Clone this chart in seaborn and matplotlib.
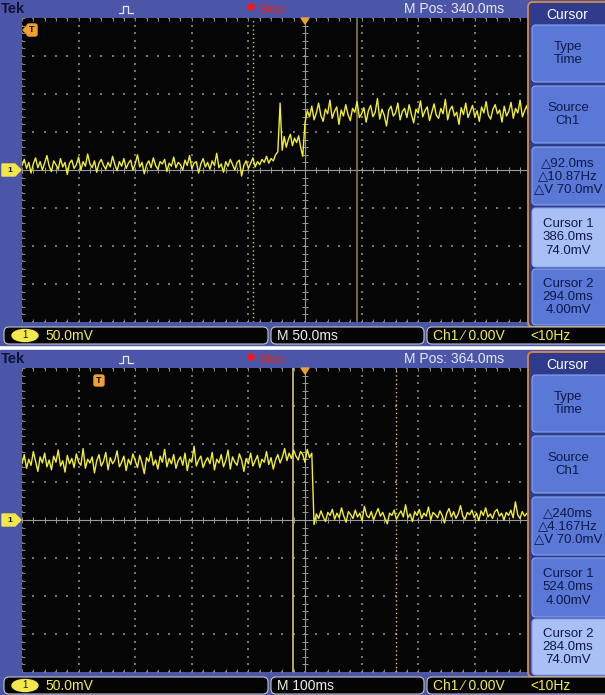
import numpy as np
import pandas as pd
import matplotlib
matplotlib.use('Agg')
import matplotlib.pyplot as plt
from matplotlib.patches import FancyBboxPatch, Rectangle, Polygon, Ellipse, Circle
import seaborn as sns

################################################################################
# Data (time in ms, voltage in mV)

mv_per_div = 50.0

top_center_ms = 340.0
top_ms_per_div = 50.0
top_seg_bounds = [(90, 316), (318, 338), (340, 540)]
top_low_mv = [6, 14, 2, 10, -4, 8, 16, 3, 11, 0, 9, 19, 5, -2, 12, 7, 1, 15, 4, 10,
              -6, 9, 13, 2, 7, 17, 0, 11, 5, 21, 8, 3, 12, -3, 9, 14, 6, 1, 10, 4,
              18, 7, -1, 11, 5, 15, 2, 9, 13, 0, 8, 20, 4, 10, -5, 7, 12, 3, 16, 6,
              1, 11, 8, 14, -2, 9, 5, 17, 3, 10, 7, 0, 13, 6, 19, 2, 9, 11, -4, 8,
              15, 4, 10, 1, 12, 6, 22, 3, 8, -3, 11, 5, 14, 7, 0, 10, 13, -8, 6, 12,
              2, 9, 16, 4, 11, 7, 14, 10, 18, 9, 15, 12, 20, 24]
top_mid_mv = [88, 26, 44, 30, 40, 47, 32, 42, 36, 45, 30, 18]
top_high_mv = [62, 78, 70, 84, 66, 75, 88, 72, 64, 80, 74, 92, 68, 77, 83, 60, 79, 71, 86, 73,
               65, 81, 76, 90, 69, 74, 82, 63, 78, 85, 70, 76, 94, 67, 80, 72, 58, 79, 84, 71,
               75, 88, 66, 77, 81, 69, 86, 73, 62, 80, 75, 91, 70, 78, 83, 65, 76, 87, 72, 68,
               81, 74, 93, 66, 79, 84, 71, 76, 60, 82, 73, 88, 69, 77, 85, 70, 78, 64, 83, 75,
               90, 72, 67, 80, 86, 74, 79, 63, 84, 71, 77, 89, 68, 81, 75, 92, 70, 78, 85, 66, 80]
top_cursor_solid_ms = 386.0
top_cursor_dotted_ms = 294.0

bottom_center_ms = 364.0
bottom_ms_per_div = 100.0
bottom_seg_bounds = [(-136, 376), (380, 760)]
bottom_high_mv = [74, 86, 68, 80, 72, 90, 77, 64, 83, 75, 88, 70, 79, 66, 84, 76, 92, 71, 78, 63,
                  85, 74, 81, 69, 87, 76, 72, 94, 68, 80, 75, 83, 62, 78, 86, 71, 77, 89, 66, 82,
                  74, 79, 91, 70, 76, 84, 65, 80, 73, 87, 78, 69, 85, 75, 61, 82, 77, 90, 72, 79,
                  67, 84, 76, 93, 70, 81, 74, 86, 68, 78, 83, 72, 88, 65, 80, 76, 97, 71, 79, 84,
                  69, 77, 82, 74, 89, 66, 80, 75, 86, 70, 78, 92, 67, 83, 76, 72, 87, 79, 64, 81,
                  74, 88, 71, 78, 85, 69, 80, 76, 90, 73, 82, 67, 79, 86, 75, 83, 94, 78, 88, 81,
                  92, 84, 79, 90, 86, 76, 93, 82, 88]
bottom_low_mv = [-6, 8, 2, 12, 4, -2, 10, 6, 14, 1, 9, 3, 16, 5, -3, 11, 7, 2, 13, 4,
                 9, -1, 18, 6, 3, 11, 0, 8, 15, 5, 10, 2, -5, 9, 6, 13, 1, 7, 12, 4,
                 20, 3, 8, -2, 11, 6, 14, 2, 9, 5, 17, 0, 10, 7, 3, 12, 6, -4, 9, 15,
                 4, 11, 2, 8, 19, 5, 1, 10, 7, 13, 3, 9, -1, 12, 6, 16, 4, 8, 2, 11,
                 14, 5, 9, 0, 10, 6, 13, 3, 24, 7, 2, 11, 5, 9, 4]
bottom_cursor_solid_ms = 342.0
bottom_cursor_dotted_ms = 524.0

top_menu = ['Type\nTime', 'Source\nCh1', '\u25b392.0ms\n\u25b310.87Hz\n\u25b3V 70.0mV',
            'Cursor 1\n386.0ms\n74.0mV', 'Cursor 2\n294.0ms\n4.00mV']
bottom_menu = ['Type\nTime', 'Source\nCh1', '\u25b3240ms\n\u25b34.167Hz\n\u25b3V 70.0mV',
               'Cursor 1\n524.0ms\n4.00mV', 'Cursor 2\n284.0ms\n74.0mV']
top_status = ['50.0mV', 'M 50.0ms', 'Ch1 \u2044 0.00V', '<10Hz']
bottom_status = ['50.0mV', 'M 100ms', 'Ch1 \u2044 0.00V', '<10Hz']

################################################################################

W, H = 605, 695
FRAME = '#4b56a8'
TRACE = '#f2ee2c'
ORANGE = '#f0a030'

sns.set_style('white')
plt.rcParams['font.family'] = ['Liberation Sans', 'DejaVu Sans']


def to_fig(x0, y0, x1, y1):
    return [x0 / W, 1 - y1 / H, (x1 - x0) / W, (y1 - y0) / H]


def build_trace(seg_bounds, segs):
    parts = []
    for (t0, t1), vals in zip(seg_bounds, segs):
        parts.append(pd.DataFrame({'t': np.linspace(t0, t1, len(vals)), 'mv': vals}))
    return pd.concat(parts, ignore_index=True)


def draw_screen(fig, y0, center, ms_per_div, trace, solid_ms, dotted_ms, solid_color):
    ax = fig.add_axes(to_fig(22, y0 + 18, 588, y0 + 322), zorder=1)
    ax.set_facecolor('#050505')
    x_lo, x_hi = center - 5 * ms_per_div, center + 5 * ms_per_div
    y_lo, y_hi = -4 * mv_per_div, 4 * mv_per_div

    # dotted graticule
    sub_y = np.arange(y_lo, y_hi + 1, mv_per_div / 5)
    sub_x = center + ms_per_div * np.arange(-5, 5.01, 0.2)
    for k in range(-5, 6):
        if k == 0:
            continue
        ax.scatter(np.full(len(sub_y), center + k * ms_per_div), sub_y, s=0.8,
                   marker='s', color='#747474', linewidths=0, zorder=1)
    for j in range(-4, 5):
        if j == 0:
            continue
        ax.scatter(sub_x, np.full(len(sub_x), j * mv_per_div), s=0.8,
                   marker='s', color='#747474', linewidths=0, zorder=1)

    # centre crosshair with minor ticks
    ax.axvline(center, color='#9a9a9a', lw=0.8, zorder=2)
    ax.axhline(0, color='#9a9a9a', lw=0.8, zorder=2)
    tick_mv = 3 / 38 * mv_per_div
    tick_ms = 3 / 56.6 * ms_per_div
    ax.vlines(sub_x, -tick_mv, tick_mv, color='#9a9a9a', lw=0.7, zorder=2)
    ax.hlines(sub_y, center - tick_ms, center + tick_ms, color='#9a9a9a', lw=0.7, zorder=2)
    ax.vlines(sub_x, y_hi - tick_mv, y_hi, color='#8a8a8a', lw=0.7, zorder=2)
    ax.vlines(sub_x, y_lo, y_lo + tick_mv, color='#8a8a8a', lw=0.7, zorder=2)
    ax.hlines(sub_y, x_lo, x_lo + tick_ms, color='#8a8a8a', lw=0.7, zorder=2)

    # cursors
    ax.axvline(solid_ms, color=solid_color, lw=1.1, zorder=3)
    ax.axvline(dotted_ms, color='#d9c865', lw=1.0, linestyle=(0, (1, 2)), zorder=3)

    sns.lineplot(data=trace, x='t', y='mv', ax=ax, color=TRACE, lw=1.0,
                 estimator=None, sort=False, zorder=4)

    ax.set_xlim(x_lo, x_hi)
    ax.set_ylim(y_lo, y_hi)
    ax.set_xticks([])
    ax.set_yticks([])
    ax.set_xlabel('')
    ax.set_ylabel('')
    for spine in ax.spines.values():
        spine.set_visible(False)
    return ax


def draw_panel(fig, bg, fg, y0, center, ms_per_div, trace, solid_ms, dotted_ms,
               solid_color, menu, highlight, status, t_zero_visible):
    bg.add_patch(Rectangle((0, y0), W, 345, color=FRAME, zorder=0))
    draw_screen(fig, y0, center, ms_per_div, trace, solid_ms, dotted_ms, solid_color)

    # header bar
    bg.text(1, y0 + 9, 'Tek', fontsize=10.5, fontweight='bold', color='#0e1236',
            va='center', ha='left')
    bg.plot([119, 123, 123, 128, 128, 133],
            [y0 + 13, y0 + 13, y0 + 6, y0 + 6, y0 + 13, y0 + 13], color='#e6e8f4', lw=0.9)
    bg.add_patch(Circle((251, y0 + 7), 3, color='#ff1414', zorder=2))
    bg.text(258, y0 + 10, 'Stop', fontsize=9.5, color='#d42828', va='center', ha='left')
    bg.text(404, y0 + 9, 'M Pos: %.1fms' % center, fontsize=10, color='#e6e8f4',
            va='center', ha='left')

    # trigger position marker
    fg.add_patch(Polygon([(301, y0 + 18), (309, y0 + 18), (305, y0 + 24)], color=ORANGE))

    # trigger point "T" marker
    span = 10 * ms_per_div
    if t_zero_visible:
        tx = 22 + (0 - (center - 5 * ms_per_div)) / span * 566
        fg.add_patch(FancyBboxPatch((tx - 5, y0 + 25), 10, 11,
                                    boxstyle='round,pad=0,rounding_size=2', color=ORANGE))
        fg.text(tx, y0 + 30.5, 'T', fontsize=6.5, fontweight='bold', color='#101010',
                ha='center', va='center')
    else:
        fg.add_patch(Polygon([(23, y0 + 30), (27, y0 + 26), (27, y0 + 34)], color=ORANGE))
        fg.add_patch(FancyBboxPatch((27, y0 + 24), 10, 12,
                                    boxstyle='round,pad=0,rounding_size=2', color=ORANGE))
        fg.text(32, y0 + 30, 'T', fontsize=6.5, fontweight='bold', color='#101010',
                ha='center', va='center')

    # channel 1 ground marker
    gy = y0 + 170
    fg.add_patch(Polygon([(2, gy - 6), (15, gy - 6), (21, gy), (15, gy + 6), (2, gy + 6)],
                         color='#f2e64a'))
    fg.text(10, gy, '1', fontsize=6, fontweight='bold', color='#101010',
            ha='center', va='center')

    # side menu
    fg.add_patch(FancyBboxPatch((528, y0 + 2), 82, 325, boxstyle='round,pad=0,rounding_size=5',
                                fc='#2f3c8e', ec='#d98a3e', lw=1.3))
    fg.text(567, y0 + 15, 'Cursor', fontsize=10, color='white', ha='center', va='center')
    button_bounds = [(25, 82), (86, 143), (147, 205), (208, 267), (269, 325)]
    for i, ((b0, b1), label) in enumerate(zip(button_bounds, menu)):
        fc = '#a9c0f4' if i == highlight else '#5a78d6'
        fg.add_patch(FancyBboxPatch((532, y0 + b0), 80, b1 - b0,
                                    boxstyle='round,pad=0,rounding_size=4',
                                    fc=fc, ec='#8aa4ee', lw=0.8))
        fg.text(568, y0 + (b0 + b1) / 2, label, fontsize=9.5, color='#0e1848',
                ha='center', va='center', linespacing=1.12)

    # status bar
    sy0, sy1 = y0 + 327, y0 + 344
    for x0, x1 in [(4, 268), (271, 424), (427, 620)]:
        fg.add_patch(FancyBboxPatch((x0, sy0), x1 - x0, sy1 - sy0,
                                    boxstyle='round,pad=0,rounding_size=5',
                                    fc='#040404', ec='#c4c4c4', lw=0.8))
    sc = (sy0 + sy1) / 2
    fg.add_patch(Ellipse((25, sc), 26, 12, color='#f4e84a'))
    fg.text(25, sc, '1', fontsize=7, color='#101010', ha='center', va='center')
    fg.text(45, sc, status[0], fontsize=10, color='#f2ec4a', ha='left', va='center')
    fg.text(277, sc, status[1], fontsize=10, color='#eeeeee', ha='left', va='center')
    fg.text(433, sc, status[2], fontsize=10, color='#f2ec4a', ha='left', va='center')
    fg.text(530, sc, status[3], fontsize=10, color='#f2ec4a', ha='left', va='center')


################################################################################

fig = plt.figure(figsize=(W / 100, H / 100), dpi=100)
fig.patch.set_facecolor('white')

bg = fig.add_axes([0, 0, 1, 1], zorder=0)
fg = fig.add_axes([0, 0, 1, 1], zorder=3)
for a in (bg, fg):
    a.set_xlim(0, W)
    a.set_ylim(H, 0)
    a.axis('off')
fg.patch.set_alpha(0)

top_trace = build_trace(top_seg_bounds, [top_low_mv, top_mid_mv, top_high_mv])
bottom_trace = build_trace(bottom_seg_bounds, [bottom_high_mv, bottom_low_mv])

draw_panel(fig, bg, fg, 0, top_center_ms, top_ms_per_div, top_trace,
           top_cursor_solid_ms, top_cursor_dotted_ms, '#8f8652',
           top_menu, 3, top_status, False)
draw_panel(fig, bg, fg, 350, bottom_center_ms, bottom_ms_per_div, bottom_trace,
           bottom_cursor_solid_ms, bottom_cursor_dotted_ms, '#ddd592',
           bottom_menu, 4, bottom_status, True)

fig.savefig('out.png', dpi=100, facecolor='white')
